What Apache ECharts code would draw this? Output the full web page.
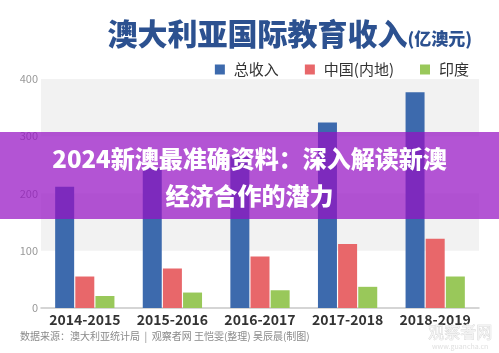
<!DOCTYPE html>
<html>
<head>
<meta charset="utf-8">
<script src="https://cdn.jsdelivr.net/npm/echarts@6/dist/echarts.min.js"></script>
<style>
  html, body { margin: 0; padding: 0; background: #fff; }
  #chart { width: 499px; height: 353px; }
</style>
</head>
<body>
<div id="chart"></div>
<script>
// 数据（亿澳元）
var years = ['2014-2015', '2015-2016', '2016-2017', '2017-2018', '2018-2019'];
var total = [212, 245, 264, 324, 377];
var china = [55, 69, 90, 112, 121];
var india = [21, 27, 31, 37, 55];
var yTicks = [0, 100, 200, 300, 400];

var font = '"Noto Sans CJK SC", "Noto Sans", sans-serif';
var colors = ['#3d6aad', '#e8676a', '#99c85a'];

var myChart = echarts.init(document.getElementById('chart'));
var option = {
  color: colors,
  animation: false,
  textStyle: { fontFamily: font },
  title: {
    text: '{a|澳大利亚国际教育收入}{b|(亿澳元)}',
    right: 22,
    top: 14,
    textStyle: {
      rich: {
        a: { fontSize: 30, fontWeight: 900, color: '#2c5190', fontFamily: font },
        b: { fontSize: 17, fontWeight: 900, color: '#2c5190', fontFamily: font, padding: [9, 0, 0, 0] }
      }
    }
  },
  legend: {
    data: ['总收入', '中国(内地)', '印度'],
    right: 25,
    top: 57,
    icon: 'rect',
    itemWidth: 10,
    itemHeight: 10,
    itemGap: 26,
    textStyle: { fontSize: 15, color: '#333', fontFamily: font, padding: [0, 0, 0, 4] }
  },
  grid: { left: 41, right: 20, top: 79, bottom: 45 },
  xAxis: {
    type: 'category',
    data: years,
    axisTick: { show: false },
    axisLine: { lineStyle: { color: '#c8c8c8', width: 1.5 } },
    axisLabel: { interval: 0, fontSize: 14, fontWeight: 'bold', color: '#333', margin: 5, fontFamily: font }
  },
  yAxis: {
    type: 'value',
    min: yTicks[0],
    max: yTicks[yTicks.length - 1],
    interval: 100,
    axisLine: { show: false },
    axisTick: { show: false },
    splitLine: { show: false },
    splitArea: { show: true, areaStyle: { color: ['#ffffff', '#f2f2f2'] } },
    axisLabel: { fontSize: 11, color: '#999', margin: 3, fontFamily: font }
  },
  series: [
    { name: '总收入', type: 'bar', data: total, barWidth: 19, barGap: '6%' },
    { name: '中国(内地)', type: 'bar', data: china, barWidth: 19, barGap: '6%' },
    { name: '印度', type: 'bar', data: india, barWidth: 19, barGap: '6%' }
  ],
  graphic: [
    {
      type: 'text', left: 20, top: 331, z: 10,
      style: { text: '数据来源：澳大利亚统计局  |  观察者网 王恺雯(整理) 吴辰晨(制图)', fill: '#8a8a8a', font: '10px ' + font }
    },
    {
      type: 'text', left: 428, top: 324, z: 10,
      style: { text: '观察者网', fill: '#f3f3f3', stroke: '#cfcfcf', lineWidth: 0.6, font: '16px ' + font }
    },
    {
      type: 'text', left: 432, top: 343, z: 10,
      style: { text: 'www.guancha.cn', fill: '#e0e0e0', font: '7px ' + font }
    },
    {
      type: 'rect', left: 0, top: 132, z: 100,
      shape: { width: 499, height: 87 },
      style: { fill: 'rgba(150, 18, 195, 0.72)' }
    },
    {
      type: 'text', z: 101, x: 249.5, y: 159,
      style: {
        text: '2024新澳最准确资料：深入解读新澳', fill: '#fff',
        font: '900 24px ' + font, align: 'center', verticalAlign: 'middle'
      }
    },
    {
      type: 'text', z: 101, x: 249.5, y: 196,
      style: {
        text: '经济合作的潜力', fill: '#fff',
        font: '900 24px ' + font, align: 'center', verticalAlign: 'middle'
      }
    }
  ]
};
option && myChart.setOption(option);
</script>
</body>
</html>
